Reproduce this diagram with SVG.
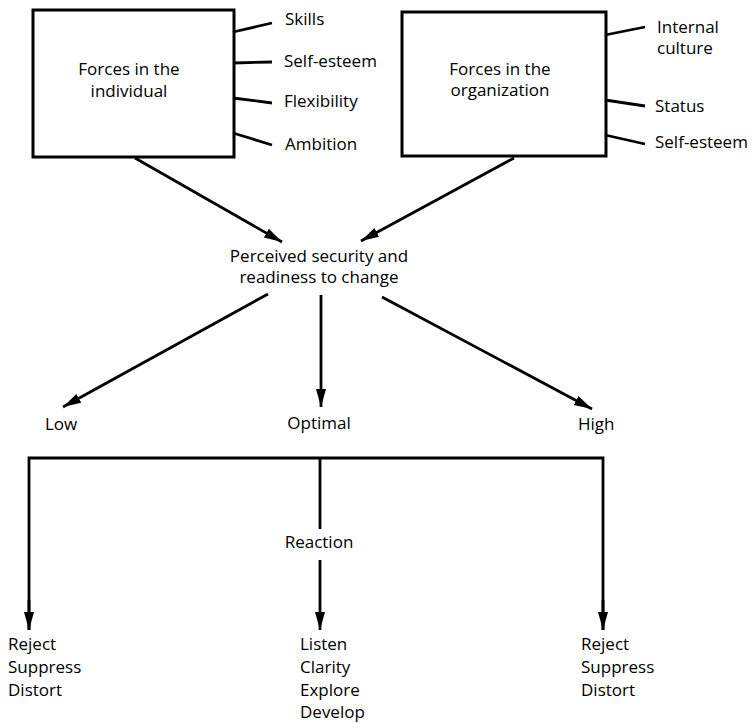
<svg xmlns="http://www.w3.org/2000/svg" width="753" height="723" viewBox="0 0 753 723">
  <defs>
    <marker id="arrow" markerUnits="userSpaceOnUse" markerWidth="20" markerHeight="12" refX="18" refY="5" orient="auto">
      <path d="M0,0 L18,5 L0,10 Z" fill="#000"/>
    </marker>
    <style>
      text { font-family: "Open Sans", "Liberation Sans", sans-serif; font-size: 17px; fill: #000; }
      .box { fill: #fff; stroke: #000; stroke-width: 3; }
      .spoke { stroke: #000; stroke-width: 2.8; fill: none; }
      .edge { stroke: #000; stroke-width: 2.8; fill: none; }
      .arrow { marker-end: url(#arrow); }
      .mid { text-anchor: middle; }
    </style>
  </defs>
  <rect width="753" height="723" fill="#fff"/>

  <!-- individual forces -->
  <g id="node-individual">
    <rect class="box" x="33" y="10" width="201" height="147"/>
    <text class="mid" x="129" y="75">Forces in the</text>
    <text class="mid" x="129" y="97">individual</text>
    <path class="spoke" d="M233,32 L272,23 M233,63 L272,62 M233,98 L272,103 M233,133 L272,145"/>
    <text x="285" y="25">Skills</text>
    <text x="284" y="67">Self-esteem</text>
    <text x="284" y="107">Flexibility</text>
    <text x="285" y="150">Ambition</text>
  </g>

  <!-- organizational forces -->
  <g id="node-organization">
    <rect class="box" x="402" y="12" width="204" height="144"/>
    <text class="mid" x="500" y="75">Forces in the</text>
    <text class="mid" x="500" y="96">organization</text>
    <path class="spoke" d="M605,35 L645,27 M605,100 L645,106 M605,135 L645,144"/>
    <text x="657" y="33">Internal</text>
    <text x="657" y="54">culture</text>
    <text x="655" y="112">Status</text>
    <text x="655" y="148">Self-esteem</text>
  </g>

  <g id="node-perceived">
    <text class="mid" x="319" y="262">Perceived security and</text>
    <text class="mid" x="319" y="283">readiness to change</text>
  </g>

  <g id="node-low"><text x="45" y="430">Low</text></g>
  <g id="node-optimal"><text class="mid" x="319" y="429">Optimal</text></g>
  <g id="node-high"><text x="578" y="430">High</text></g>

  <g id="node-reaction"><text class="mid" x="319" y="548">Reaction</text></g>

  <g id="node-reject-low">
    <text x="8" y="650">Reject</text>
    <text x="8" y="673">Suppress</text>
    <text x="8" y="696">Distort</text>
  </g>
  <g id="node-listen">
    <text x="300" y="650">Listen</text>
    <text x="300" y="673">Clarity</text>
    <text x="300" y="696">Explore</text>
    <text x="300" y="718">Develop</text>
  </g>
  <g id="node-reject-high">
    <text x="581" y="650">Reject</text>
    <text x="581" y="673">Suppress</text>
    <text x="581" y="696">Distort</text>
  </g>

  <g id="connectors">
    <line class="edge arrow" x1="135" y1="158" x2="282" y2="242"/>
    <line class="edge arrow" x1="514" y1="158" x2="361" y2="241"/>
    <line class="edge arrow" x1="268" y1="294" x2="63" y2="407"/>
    <line class="edge arrow" x1="321" y1="295" x2="321" y2="407"/>
    <line class="edge arrow" x1="382" y1="297" x2="592" y2="409"/>
    <path class="edge" d="M29,630 L29,458 L603,458 L603,630"/>
    <line class="edge arrow" x1="29" y1="600" x2="29" y2="630"/>
    <line class="edge arrow" x1="603" y1="600" x2="603" y2="630"/>
    <line class="edge" x1="320" y1="458" x2="320" y2="529"/>
    <line class="edge arrow" x1="320" y1="560" x2="320" y2="630"/>
  </g>
</svg>
